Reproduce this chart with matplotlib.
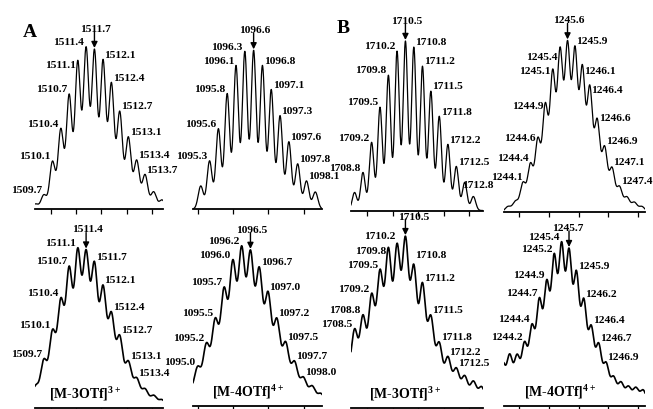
import numpy as np
import matplotlib
matplotlib.use("Agg")
import matplotlib.pyplot as plt

plt.rcParams['font.family'] = ['Liberation Serif', 'DejaVu Serif']
plt.rcParams['mathtext.fontset'] = 'custom'
plt.rcParams['mathtext.rm'] = 'Liberation Serif'
plt.rcParams['mathtext.bf'] = 'Liberation Serif:bold'

# ---------------- data (m/z of isotope peaks, relative intensity, labels) ----------------
# Column 1 : [M-3OTf]3+  (panel A)
a_top_mz = [1509.40, 1509.73, 1510.07, 1510.40, 1510.73, 1511.07, 1511.40, 1511.73,
            1512.07, 1512.40, 1512.73, 1513.07, 1513.40, 1513.73, 1514.07, 1514.40]
a_top_int = [5, 14, 47, 79, 113, 146, 159, 157, 147, 124, 96, 71, 48, 34, 17, 9]
a_top_lab = ['', '1509.7', '1510.1', '1510.4', '1510.7', '1511.1', '1511.4', '1511.7',
             '1512.1', '1512.4', '1512.7', '1513.1', '1513.4', '1513.7', '', '']
a_top_apex = '1511.7'

a_bot_mz = [1509.40, 1509.73, 1510.07, 1510.40, 1510.73, 1511.07, 1511.40, 1511.73,
            1512.07, 1512.40, 1512.73, 1513.07, 1513.40, 1513.73, 1514.07, 1514.40]
a_bot_int = [21, 46, 73, 102, 133, 150, 147, 137, 115, 89, 68, 44, 28, 18, 12, 8]
a_bot_lab = ['', '1509.7', '1510.1', '1510.4', '1510.7', '1511.1', '1511.4', '1511.7',
             '1512.1', '1512.4', '1512.7', '1513.1', '1513.4', '', '', '']
a_bot_apex = '1511.4'

# Column 2 : [M-4OTf]4+  (panel A)
b_top_mz = [1095.08, 1095.33, 1095.58, 1095.83, 1096.08, 1096.33, 1096.58, 1096.83,
            1097.08, 1097.33, 1097.58, 1097.83, 1098.08, 1098.33]
b_top_int = [23, 48, 80, 115, 143, 157, 158, 143, 119, 93, 67, 45, 28, 17]
b_top_lab = ['', '1095.3', '1095.6', '1095.8', '1096.1', '1096.3', '1096.6', '1096.8',
             '1097.1', '1097.3', '1097.6', '1097.8', '1098.1', '']
b_top_apex = '1096.6'

b_bot_mz = [1094.74, 1094.99, 1095.24, 1095.49, 1095.74, 1095.99, 1096.24, 1096.49,
            1096.74, 1096.99, 1097.24, 1097.49, 1097.74, 1097.99, 1098.24, 1098.49]
b_bot_int = [18, 37, 59, 82, 111, 137, 150, 146, 130, 107, 82, 60, 42, 27, 19, 12]
b_bot_lab = ['', '1095.0', '1095.2', '1095.5', '1095.7', '1096.0', '1096.2', '1096.5',
             '1096.7', '1097.0', '1097.2', '1097.5', '1097.7', '1098.0', '', '']
b_bot_apex = '1096.5'

# Column 3 : [M-3OTf]3+  (panel B)
c_top_mz = [1708.50, 1708.83, 1709.17, 1709.50, 1709.83, 1710.17, 1710.50, 1710.83,
            1711.17, 1711.50, 1711.83, 1712.17, 1712.50, 1712.83, 1713.17]
c_top_int = [18, 38, 68, 103, 135, 159, 169, 163, 144, 119, 94, 66, 44, 28, 14]
c_top_lab = ['', '1708.8', '1709.2', '1709.5', '1709.8', '1710.2', '1710.5', '1710.8',
             '1711.2', '1711.5', '1711.8', '1712.2', '1712.5', '1712.8', '']
c_top_apex = '1710.5'

c_bot_mz = [1708.17, 1708.50, 1708.83, 1709.17, 1709.50, 1709.83, 1710.17, 1710.50,
            1710.83, 1711.17, 1711.50, 1711.83, 1712.17, 1712.50, 1712.83, 1713.17, 1713.50]
c_bot_int = [46, 74, 87, 107, 129, 151, 154, 161, 134, 118, 86, 61, 48, 37, 30, 25, 20]
c_bot_lab = ['', '1708.5', '1708.8', '1709.2', '1709.5', '1709.8', '1710.2', '1710.5',
             '1710.8', '1711.2', '1711.5', '1711.8', '1712.2', '1712.5', '', '', '']
c_bot_apex = '1710.5'

# Column 4 : [M-4OTf]4+  (panel B)
d_top_mz = [1243.62, 1243.87, 1244.12, 1244.37, 1244.62, 1244.87, 1245.12, 1245.37,
            1245.62, 1245.87, 1246.12, 1246.37, 1246.62, 1246.87, 1247.12, 1247.37,
            1247.62, 1247.87, 1248.12]
d_top_int = [5, 10, 28, 46, 70, 103, 135, 156, 162, 157, 139, 120, 88, 62, 42, 24, 14, 9, 5]
d_top_lab = ['', '', '1244.1', '1244.4', '1244.6', '1244.9', '1245.1', '1245.4',
             '1245.6', '1245.9', '1246.1', '1246.4', '1246.6', '1246.9', '1247.1', '1247.4',
             '', '', '']
d_top_apex = '1245.6'

d_bot_mz = [1243.42, 1243.67, 1243.92, 1244.17, 1244.42, 1244.67, 1244.92, 1245.17,
            1245.42, 1245.67, 1245.92, 1246.17, 1246.42, 1246.67, 1246.92, 1247.17,
            1247.42, 1247.67, 1247.92, 1248.17]
d_bot_int = [42, 48, 47, 59, 75, 100, 116, 141, 152, 146, 125, 99, 74, 58, 40, 27, 22, 18, 17, 15]
d_bot_lab = ['', '', '', '1244.2', '1244.4', '1244.7', '1244.9', '1245.2',
             '1245.4', '1245.7', '1245.9', '1246.2', '1246.4', '1246.7', '1246.9', '',
             '', '', '', '']
d_bot_apex = '1245.7'

# m/z window of each column and species names
col_xlim = [(1509.38, 1514.44), (1094.86, 1098.52), (1708.36, 1713.55), (1243.48, 1248.23)]
col_names = [r'[M-3OTf]$^{\mathbf{3+}}$', r'[M-4OTf]$^{\mathbf{4+}}$',
             r'[M-3OTf]$^{\mathbf{3+}}$', r'[M-4OTf]$^{\mathbf{4+}}$']
panel_letters = ['A', 'B']

# ---------------- layout / style ----------------
W, H = 653, 410
fig = plt.figure(figsize=(W / 100, H / 100), dpi=100)

col_px = [(35, 163), (193, 322), (351, 483), (504, 645)]
top_base = [210, 210, 211.5, 212.5]
bot_base = [409, 407, 408.5, 406.5]
AX_H = 190
sig_top = [0.110, 0.072, 0.092, 0.094]
sig_bot = [0.130, 0.097, 0.128, 0.099]
name_xfrac = [0.39, 0.43, 0.41, 0.40]
LABEL_FS = 8.2
APEX_LEN = 11.5

# label nudges in points: (column, row, label) -> (dx, dy)
nudge = {
    (0, 0, '1511.1'): (0, -7),
    (2, 0, '1712.8'): (-3, -5),
    (3, 0, '1245.4'): (0, -11), (3, 0, '1245.1'): (0, -5), (3, 0, '1244.9'): (0, -6),
    (3, 0, '1244.6'): (0, -4), (3, 0, '1246.1'): (0, -8), (3, 0, '1246.4'): (0, -7),
    (3, 0, '1246.6'): (0, -3), (3, 0, '1244.1'): (1, 0),
    (2, 1, '1709.8'): (0, -6), (2, 1, '1710.2'): (0, 2), (2, 1, '1710.5'): (5, -1),
    (2, 1, '1710.8'): (0, 3),
    (3, 1, '1245.7'): (-2, 0),
}

panels = [
    [(a_top_mz, a_top_int, a_top_lab, a_top_apex), (a_bot_mz, a_bot_int, a_bot_lab, a_bot_apex)],
    [(b_top_mz, b_top_int, b_top_lab, b_top_apex), (b_bot_mz, b_bot_int, b_bot_lab, b_bot_apex)],
    [(c_top_mz, c_top_int, c_top_lab, c_top_apex), (c_bot_mz, c_bot_int, c_bot_lab, c_bot_apex)],
    [(d_top_mz, d_top_int, d_top_lab, d_top_apex), (d_bot_mz, d_bot_int, d_bot_lab, d_bot_apex)],
]


def make_ax(col, base):
    x0, x1 = col_px[col]
    rect = [x0 / W, (H - base) / H, (x1 - x0) / W, AX_H / H]
    ax = fig.add_axes(rect)
    ax.set_xlim(*col_xlim[col])
    ax.set_ylim(0, AX_H)
    for s in ('top', 'right', 'left'):
        ax.spines[s].set_visible(False)
    ax.spines['bottom'].set_linewidth(1.3)
    ax.set_yticks([])
    lo, hi = col_xlim[col]
    ax.set_xticks(np.arange(np.ceil(lo), np.floor(hi) + 1))
    ax.tick_params(axis='x', direction='out', length=3.5, width=0.9, labelbottom=False)
    ax.patch.set_alpha(0)
    return ax


def draw_spectrum(ax, col, row, mz, inten, labels, apex, sigma, lw):
    xlim = col_xlim[col]
    mz = np.asarray(mz, float)
    inten = np.asarray(inten, float)
    x = np.linspace(xlim[0], xlim[1], 2000)
    y = np.zeros_like(x)
    for m, h in zip(mz, inten):
        y += h * np.exp(-0.5 * ((x - m) / sigma) ** 2)
    ax.plot(x, y, color='black', lw=lw, solid_joinstyle='round')
    apex_i = labels.index(apex)
    for i, (m, lab) in enumerate(zip(mz, labels)):
        if not lab:
            continue
        yp = np.interp(m, x, y)
        dx, dy = nudge.get((col, row, lab), (0, 0))
        kw = dict(textcoords='offset points', fontsize=LABEL_FS, fontweight='bold',
                  va='bottom')
        if i == apex_i:
            ax.annotate('', xy=(m, yp + 1), xytext=(0, APEX_LEN), textcoords='offset points',
                        arrowprops=dict(arrowstyle='-|>', color='black', lw=1.0,
                                        mutation_scale=9, shrinkA=0, shrinkB=0))
            ax.annotate(lab, xy=(m, yp + 1), xytext=(1 + dx, APEX_LEN - 0.5 + dy),
                        ha='center', **kw)
        elif i < apex_i:
            ax.annotate(lab, xy=(m, yp), xytext=(-1.5 + dx, 0.5 + dy), ha='right', **kw)
        else:
            ax.annotate(lab, xy=(m, yp), xytext=(1.0 + dx, 0.5 + dy), ha='left', **kw)


for c in range(4):
    top, bot = panels[c]
    ax_t = make_ax(c, top_base[c])
    draw_spectrum(ax_t, c, 0, *top, sig_top[c], 0.9)
    ax_b = make_ax(c, bot_base[c])
    draw_spectrum(ax_b, c, 1, *bot, sig_bot[c], 1.2)
    ax_b.text(name_xfrac[c], 0.08, col_names[c], transform=ax_b.transAxes,
              ha='center', va='center', fontsize=10, fontweight='bold')

fig.text(23 / W, 1 - 37 / H, panel_letters[0], fontsize=14, fontweight='bold', ha='left', va='baseline')
fig.text(337 / W, 1 - 33 / H, panel_letters[1], fontsize=14, fontweight='bold', ha='left', va='baseline')

fig.savefig('out.png', dpi=100)
